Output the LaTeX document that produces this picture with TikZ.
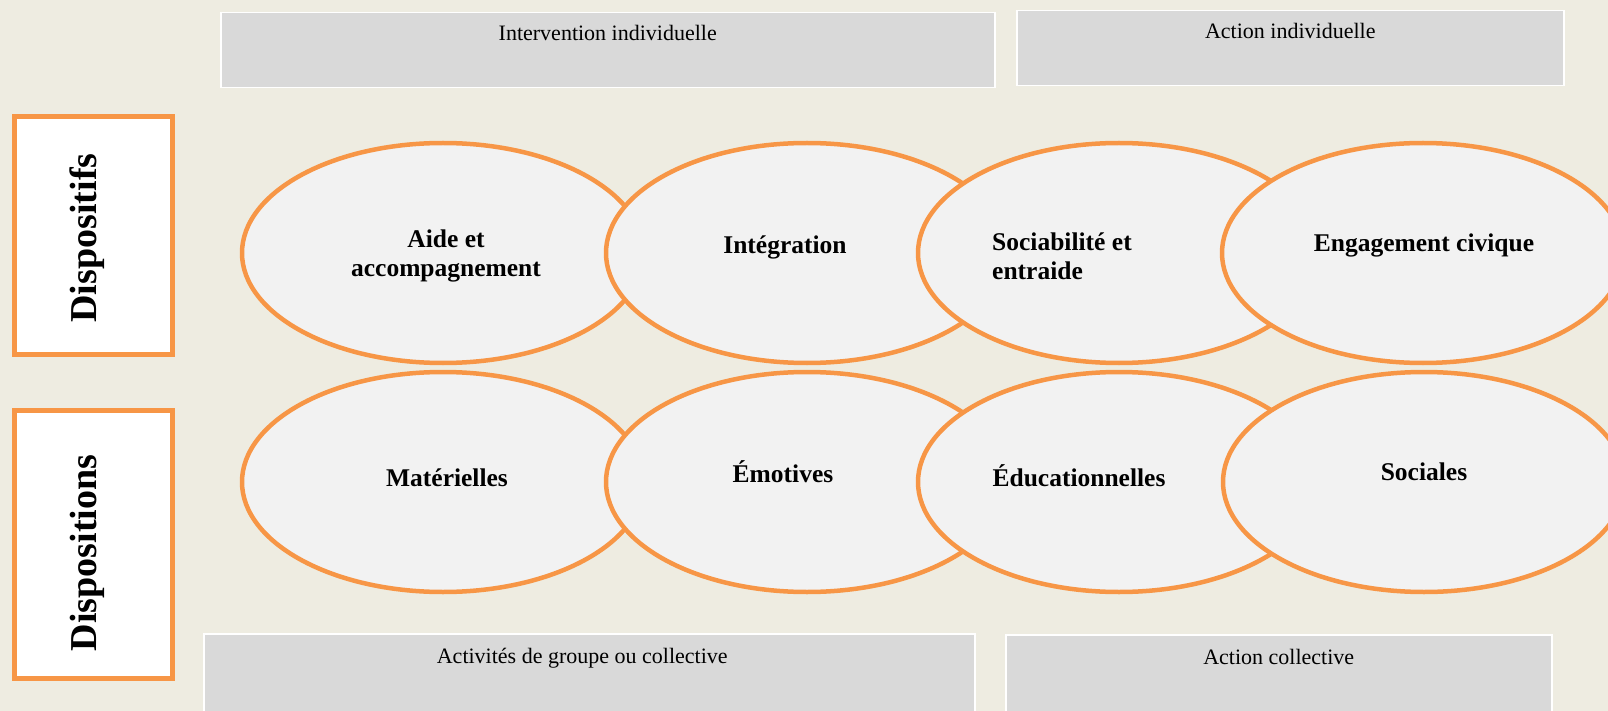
\documentclass[tikz,border=0pt]{standalone}
\usepackage{fontspec}
\setmainfont{Liberation Serif}
\usetikzlibrary{positioning}
\usetikzlibrary{shapes.geometric}

\definecolor{bgbeige}{HTML}{EEECE1}
\definecolor{bubbleorange}{HTML}{F79646}
\definecolor{bubblefill}{HTML}{F2F2F2}
\definecolor{boxgray}{HTML}{D9D9D9}

\begin{document}
\begin{tikzpicture}[x=1pt, y=-1pt,
    bubble/.style={ellipse, draw=bubbleorange, line width=4.5pt, fill=bubblefill,
        minimum width=402pt, minimum height=220pt, inner sep=0pt},
    bubbletext/.style={font=\fontsize{25.5}{29}\selectfont\bfseries, align=center, inner sep=0pt},
    sidebox/.style={draw=bubbleorange, line width=5pt, fill=white, minimum width=158pt, inner sep=0pt},
    sidetext/.style={font=\fontsize{38}{40}\selectfont\bfseries, rotate=90, inner sep=0pt},
    graybox/.style={draw=white, line width=1.5pt, fill=boxgray, inner sep=0pt, anchor=north west},
    graytext/.style={font=\fontsize{22}{26}\selectfont, inner sep=0pt}]

    % Background
    \useasboundingbox (0,0) rectangle (1608,711);
    \fill[bgbeige] (0,0) rectangle (1608,711);

    % Gray boxes with their labels
    \node[graybox, minimum width=774pt, minimum height=75pt] (intbox) at (220,12) {};
    \node[graybox, minimum width=547pt, minimum height=75pt] (actindbox) at (1016,10) {};
    \node[graybox, minimum width=771pt, minimum height=85pt] (groupbox) at (203,633) {};
    \node[graybox, minimum width=546pt, minimum height=85pt] (actcolbox) at (1005,634) {};

    \node[graytext, below=13pt of intbox.north] (inttext) {Intervention individuelle};
    \node[graytext, below=13pt of actindbox.north] (actindtext) {Action individuelle};
    \node[graytext, below=15pt of groupbox.north, xshift=-7pt] (grouptext) {Activités de groupe ou collective};
    \node[graytext, below=15pt of actcolbox.north] (actcoltext) {Action collective};

    % Side boxes
    \node[sidebox, minimum height=238pt] (dispbox) at (93.5,235.5) {};
    \node[sidetext] (disptext) at (87,238) {Dispositifs};
    \node[sidebox, minimum height=268pt] (dispobox) at (93.5,544.5) {};
    \node[sidetext] (dispotext) at (87,553) {Dispositions};

    % Ellipses, drawn left to right so each one covers the one before
    \def\bubblelist{
        aide/443/253, integ/807/253, socia/1119/253, engag/1423/253,
        mater/443/482, emot/807/482, educ/1119/482, socl/1424/482
    }
    \foreach \nm/\cx/\cy in \bubblelist {
        \node[bubble] (\nm) at (\cx,\cy) {};
    }

    % Ellipse labels
    \node[bubbletext] (aidetext) at (446,256) {Aide et\\accompagnement};
    \node[bubbletext] (integtext) at (785,247) {Intégration};
    \node[bubbletext, anchor=west, align=left] (sociatext) at (992,256) {Sociabilité et\\entraide};
    \node[bubbletext] (engagtext) at (1424,245) {Engagement civique};
    \node[bubbletext] (matertext) at (447,478) {Matérielles};
    \node[bubbletext] (emottext) at (783,472) {Émotives};
    \node[bubbletext] (eductext) at (1079,476) {Éducationnelles};
    \node[bubbletext] (socltext) at (1424,472) {Sociales};

\end{tikzpicture}
\end{document}
